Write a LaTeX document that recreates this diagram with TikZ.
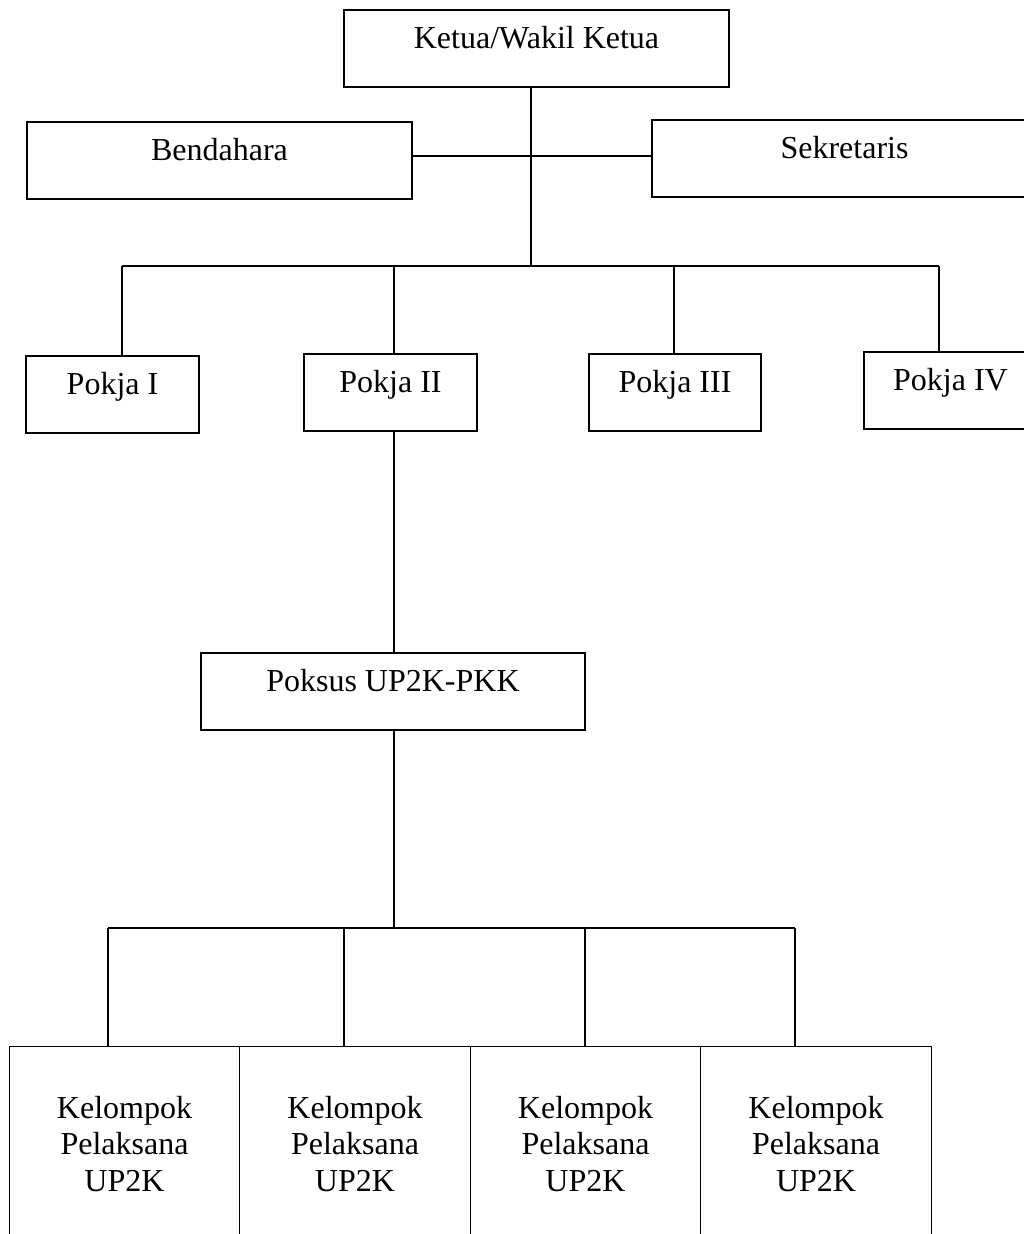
\documentclass[tikz,border=0pt]{standalone}
\usepackage{fontspec}
\setmainfont{Liberation Serif}
\usepackage{tikz}

\begin{document}
\begin{tikzpicture}[x=1pt,y=-1pt]
\tikzstyle{unit}=[draw,line width=1.8pt,inner sep=0pt,minimum height=77pt,font=\fontsize{32}{36.5}\selectfont,text height=0.7em,text depth=0.8em]

\tikzstyle{group}=[draw,line width=1.1pt,inner sep=0pt,minimum width=230.5pt,minimum height=194pt,anchor=north,align=center,font=\fontsize{32}{36.5}\selectfont]

\tikzstyle{link}=[line width=1.5pt]

\clip (0,0) rectangle (1024,1234);

\node (ketua) [unit,minimum width=385pt] at (536.5,48.5) {Ketua/Wakil Ketua};
\node (bendahara) [unit,minimum width=385pt] at (219.5,160.5) {Bendahara};
\node (sekretaris) [unit,minimum width=385pt] at (844.5,158.5) {Sekretaris};

\node (pokja1) [unit,minimum width=173pt] at (112.5,394.5) {Pokja I};
\node (pokja2) [unit,minimum width=173pt] at (390.5,392.5) {Pokja II};
\node (pokja3) [unit,minimum width=172pt] at (675,392.5) {Pokja III};
\node (pokja4) [unit,minimum width=173pt] at (950.5,390.5) {Pokja IV};

\node (poksus) [unit,minimum width=384pt] at (393,691.5) {Poksus UP2K-PKK};

\node (kel1) [group] at (124.5,1046) {Kelompok\\Pelaksana\\UP2K};
\node (kel2) [group] at (355,1046) {Kelompok\\Pelaksana\\UP2K};
\node (kel3) [group] at (585.5,1046) {Kelompok\\Pelaksana\\UP2K};
\node (kel4) [group] at (816,1046) {Kelompok\\Pelaksana\\UP2K};

\coordinate (trunk) at (531,266);
\coordinate (side) at (531,156);
\coordinate (dropA) at (122,266);
\coordinate (dropB) at (394,266);
\coordinate (dropC) at (674,266);
\coordinate (dropD) at (939,266);

\draw [link] (ketua.south -| trunk) -- (trunk);
\draw [link] (bendahara.east |- side) -- (sekretaris.west |- side);
\draw [link] (dropA) -- (dropD);
\draw [link] (dropA) -- (pokja1.north -| dropA);
\draw [link] (dropB) -- (pokja2.north -| dropB);
\draw [link] (dropC) -- (pokja3.north -| dropC);
\draw [link] (dropD) -- (pokja4.north -| dropD);

\coordinate (stem) at (394,928);
\coordinate (leafA) at (108,928);
\coordinate (leafB) at (344,928);
\coordinate (leafC) at (585,928);
\coordinate (leafD) at (795,928);

\draw [link] (pokja2.south -| stem) -- (poksus.north -| stem);
\draw [link] (poksus.south -| stem) -- (stem);
\draw [link] (leafA) -- (leafD);
\draw [link] (leafA) -- (kel1.north -| leafA);
\draw [link] (leafB) -- (kel2.north -| leafB);
\draw [link] (leafC) -- (kel3.north -| leafC);
\draw [link] (leafD) -- (kel4.north -| leafD);

\end{tikzpicture}
\end{document}
